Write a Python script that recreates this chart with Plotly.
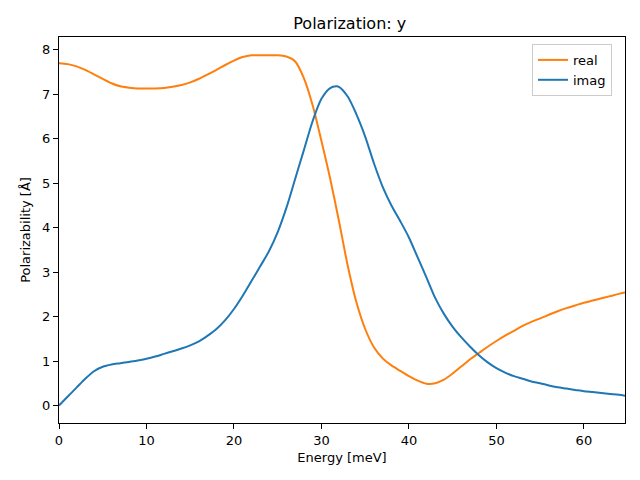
import plotly.graph_objects as go

energy_real = [0, 1, 2, 3, 4, 5, 6, 7, 8, 9, 10, 11, 12, 13, 14, 15, 16, 17, 18, 19, 20,
               21, 22, 23, 24, 25, 26, 27, 28, 29, 30, 31, 32, 33, 34, 35, 36, 37, 38, 39, 40,
               41, 42, 43, 44, 45, 46, 47, 48, 49, 50, 51, 52, 53, 54, 55, 56, 57, 58, 59, 60,
               61, 62, 63, 64, 64.7]
real_vals = [7.70, 7.68, 7.63, 7.55, 7.45, 7.35, 7.25, 7.18, 7.15, 7.13, 7.13, 7.13, 7.14, 7.17,
             7.21, 7.27, 7.35, 7.45, 7.55, 7.66, 7.76, 7.84, 7.88, 7.88, 7.88, 7.88, 7.85, 7.74,
             7.36, 6.75, 5.95, 5.10, 4.15, 3.15, 2.32, 1.72, 1.31, 1.06, 0.90, 0.78, 0.66, 0.56,
             0.49, 0.50, 0.58, 0.72, 0.88, 1.04, 1.18, 1.32, 1.45, 1.57, 1.68, 1.79, 1.88, 1.96,
             2.04, 2.12, 2.19, 2.25, 2.31, 2.36, 2.41, 2.46, 2.51, 2.54]

energy_imag = [0, 1, 2, 3, 4, 5, 6, 7, 8, 9, 10, 11, 12, 13, 14, 15, 16, 17, 18, 19, 20,
               21, 22, 23, 24, 25, 26, 27, 28, 29, 30, 31, 31.7, 32, 33, 34, 35, 36, 37, 38, 39,
               40, 41, 42, 43, 44, 45, 46, 47, 48, 49, 50, 51, 52, 53, 54, 55, 56, 57, 58, 59,
               60, 61, 62, 63, 64, 64.7]
imag_vals = [0.0, 0.2, 0.4, 0.6, 0.77, 0.87, 0.92, 0.95, 0.98, 1.01, 1.05, 1.10, 1.16, 1.22,
             1.28, 1.35, 1.44, 1.57, 1.72, 1.92, 2.17, 2.47, 2.80, 3.13, 3.47, 3.90, 4.45, 5.10,
             5.75, 6.40, 6.90, 7.14, 7.18, 7.17, 6.95, 6.55, 6.05, 5.45, 4.92, 4.50, 4.15, 3.78,
             3.33, 2.88, 2.42, 2.06, 1.77, 1.53, 1.32, 1.13, 0.97, 0.84, 0.74, 0.66, 0.60, 0.54,
             0.50, 0.45, 0.41, 0.38, 0.35, 0.32, 0.30, 0.28, 0.26, 0.24, 0.22]

x_ticks = [0, 10, 20, 30, 40, 50, 60]
y_ticks = [0, 1, 2, 3, 4, 5, 6, 7, 8]

font = "DejaVu Sans"

fig = go.Figure()
fig.add_trace(go.Scatter(x=energy_real, y=real_vals, mode="lines", name="real",
                         line=dict(color="#ff7f0e", width=2, shape="spline", smoothing=0.8)))
fig.add_trace(go.Scatter(x=energy_imag, y=imag_vals, mode="lines", name="imag",
                         line=dict(color="#1f77b4", width=2, shape="spline", smoothing=0.8)))

axis_common = dict(showgrid=False, zeroline=False, showline=True, linecolor="black",
                   linewidth=1, mirror=True, ticks="outside", ticklen=5, tickcolor="black",
                   automargin=False,
                   tickfont=dict(family=font, size=13, color="black"))

fig.update_layout(
    width=640, height=480,
    margin=dict(l=51, r=23, t=29, b=65),
    paper_bgcolor="white", plot_bgcolor="white",
    title=dict(text="Polarization: y", x=0.534, xanchor="center", y=1 - 15 / 480,
               yanchor="middle", font=dict(family=font, size=16, color="black")),
    xaxis=dict(range=[0, 64.7], tickvals=x_ticks,
               title=dict(text="Energy [meV]", font=dict(family=font, size=13, color="black"),
                          standoff=6),
               **axis_common),
    yaxis=dict(range=[-0.395, 8.29], tickvals=y_ticks,
               title=dict(text="Polarizability [Å]", font=dict(family=font, size=13, color="black"),
                          standoff=8),
               **axis_common),
    legend=dict(x=0.977, y=0.982, xanchor="right", yanchor="top",
                bgcolor="rgba(255,255,255,0.8)", bordercolor="#cccccc", borderwidth=1,
                font=dict(family=font, size=13, color="black"), tracegroupgap=0),
    showlegend=True,
)

fig.write_html("out.html")
